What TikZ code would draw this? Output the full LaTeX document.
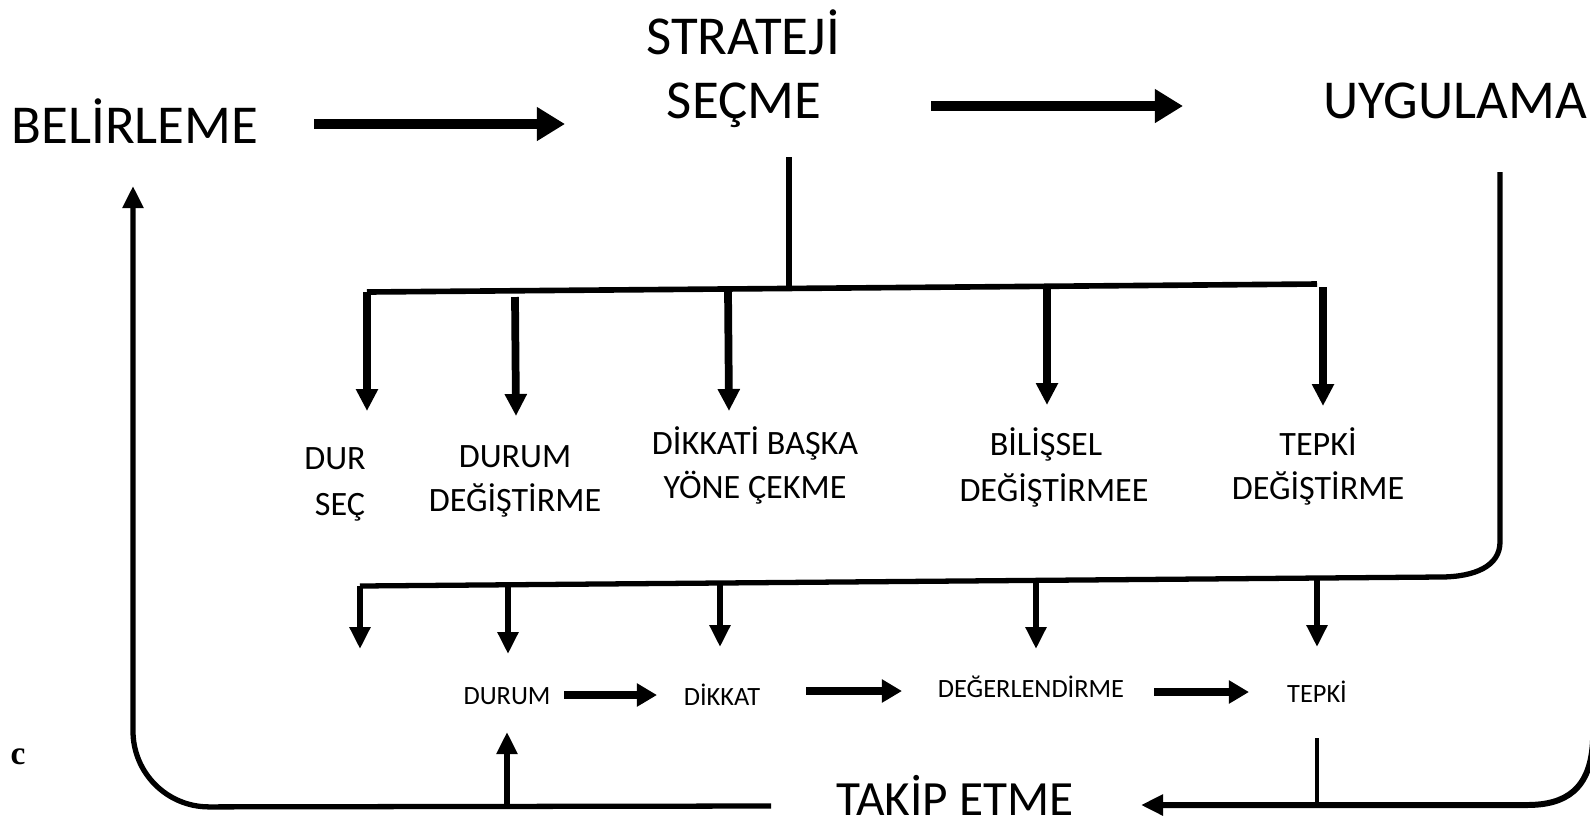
\documentclass[tikz,border=0pt]{standalone}
\usepackage{fontspec}
\setmainfont{Carlito}
\newfontfamily\markfont{Liberation Serif}
\usetikzlibrary{arrows.meta}
\begin{document}
\begin{tikzpicture}[x=0.01cm,y=-0.01cm,
  lbl/.style={inner sep=0pt, anchor=base},
  bigtxt/.style={lbl, font=\fontsize{15.6pt}{18pt}\selectfont},
  takiptxt/.style={lbl, font=\fontsize{14pt}{17pt}\selectfont},
  midtxt/.style={lbl, font=\fontsize{9.7pt}{12pt}\selectfont},
  smalltxt/.style={lbl, font=\fontsize{7.5pt}{9pt}\selectfont},
  bigarr/.style={line width=3pt, -{Triangle[length=0.28cm,width=0.32cm]}},
  droparr/.style={line width=2.2pt, -{Triangle[length=0.22cm,width=0.21cm]}},
  lowarr/.style={line width=1.6pt, -{Triangle[length=0.22cm,width=0.2cm]}},
  flowarr/.style={line width=2.3pt, -{Triangle[length=0.2cm,width=0.22cm]}},
  barline/.style={line width=1.6pt},
  loopline/.style={line width=1.5pt},
  thinline/.style={line width=1.2pt},
  looparr/.style={loopline, -{Triangle[length=0.22cm,width=0.2cm]}}
]
\useasboundingbox (0,0) rectangle (1590,826);
\fill[white] (0,0) rectangle (1590,826);
\clip (0,0) rectangle (1590,826);

% main stages
\node[bigtxt] (bel) at (135,143) {BELİRLEME};
\node[bigtxt] (strat) at (743,54) {STRATEJİ};
\node[bigtxt] (secme) at (744,118) {SEÇME};
\node[bigtxt] (uyg) at (1455,118) {UYGULAMA};
\node[takiptxt] (takip) at (955,815) {TAKİP ETME};

% strategy options
\node[midtxt] (dur) at (335,469) {DUR};
\node[midtxt] (sec) at (340,515) {SEÇ};
\node[midtxt] (durumA) at (515,467) {DURUM};
\node[midtxt] (durumB) at (515,511) {DEĞİŞTİRME};
\node[midtxt] (dikA) at (755,454) {DİKKATİ BAŞKA};
\node[midtxt] (dikB) at (755,498) {YÖNE ÇEKME};
\node[midtxt] (bilA) at (1046,455) {BİLİŞSEL};
\node[midtxt] (bilB) at (1054,501) {DEĞİŞTİRMEE};
\node[midtxt] (tepA) at (1318,455) {TEPKİ};
\node[midtxt] (tepB) at (1318,499) {DEĞİŞTİRME};

% process sequence
\node[smalltxt] (durum2) at (507,704) {DURUM};
\node[smalltxt] (dikkat2) at (722,705) {DİKKAT};
\node[smalltxt] (deg2) at (1031,697) {DEĞERLENDİRME};
\node[smalltxt] (tepki2) at (1317,702) {TEPKİ};

\node[inner sep=0pt, font=\markfont\bfseries\fontsize{9.5pt}{10pt}\selectfont] (mark) at (18,757) {c};

% arrow end points
\coordinate (a1s) at (314,124);  \coordinate (a1e) at (565,124);
\coordinate (a2s) at (931,106);  \coordinate (a2e) at (1183,106);
\coordinate (sv1) at (789,157);  \coordinate (sv2) at (789,288);
\coordinate (barR) at (1317,284); \coordinate (barL) at (367,292);
\coordinate (uv1) at (1500,172); \coordinate (uv2) at (1500,542);
\coordinate (bar2R) at (1440,577); \coordinate (bar2L) at (360,586);
\coordinate (tv1) at (1317,738); \coordinate (tv2) at (1317,805);
\coordinate (botR) at (1527,805); \coordinate (takipTip) at (1141,805);
\coordinate (lb1) at (771,806); \coordinate (lbc) at (133,807); \coordinate (lbTip) at (133,186);
\coordinate (upS) at (507,806); \coordinate (upTip) at (507,732);

% top sequence
\draw[bigarr] (a1s) -- (a1e);
\draw[bigarr] (a2s) -- (a2e);

% branch to the strategies
\draw[loopline] (sv1) -- (sv2);
\draw[barline] (barR) -- (barL);
\draw[droparr] (barL) -- (367,411);
\draw[droparr] (515,297) -- (516,416);
\draw[droparr] (728,289) -- (729,411);
\draw[droparr] (1047,286) -- (1047,405);
\draw[droparr] (1323,287) -- (1323,406);

% implementation branch
\draw[loopline] (uv1) -- (uv2) .. controls (1500,566) and (1475,577) .. (bar2R) -- (bar2L);
\draw[lowarr] (bar2L) -- (360,649);
\draw[lowarr] (508,585) -- (508,654);
\draw[lowarr] (720,583) -- (720,647);
\draw[lowarr] (1036,580) -- (1036,649);
\draw[lowarr] (1317,578) -- (1317,647);

% process flow
\draw[flowarr] (564,695) -- (657,695);
\draw[flowarr] (806,691) -- (902,691);
\draw[flowarr] (1154,692) -- (1249,692);

% monitoring loop
\draw[thinline] (tv1) -- (tv2);
\draw[looparr, line width=1.7pt] (1593,690) -- (1593,740) .. controls (1591,790) and (1565,805) .. (botR) -- (takipTip);
\draw[looparr, rounded corners=0.76cm] (lb1) -- (lbc) -- (lbTip);
\draw[looparr] (upS) -- (upTip);
\end{tikzpicture}
\end{document}
